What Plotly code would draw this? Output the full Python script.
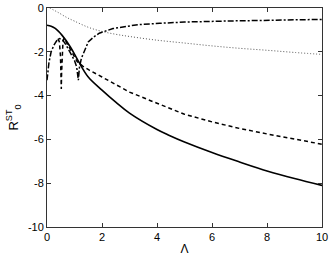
import plotly.graph_objects as go

# Solid curve
solid_x = [0, 0.15, 0.3, 0.55, 0.85, 1.15, 1.5, 2, 2.5, 3, 4, 4.45, 5, 6, 7, 8, 9, 10]
solid_y = [-0.79, -0.83, -0.93, -1.25, -1.78, -2.45, -3.15, -3.75, -4.3, -4.8, -5.55, -5.82, -6.12, -6.6, -7.03, -7.44, -7.79, -8.1]

# Dashed curve
dashed_x = [0.4, 0.45, 0.49, 0.51, 0.52, 0.53, 0.55, 0.58, 0.62, 0.7, 0.92, 1.1, 1.3, 1.54, 2, 2.5, 3, 4, 5, 6, 7, 8, 9, 10]
dashed_y = [-1.4, -1.55, -2.2, -3.0, -3.7, -3.0, -2.2, -1.55, -1.38, -1.55, -2.0, -2.45, -2.65, -2.84, -3.15, -3.5, -3.84, -4.35, -4.85, -5.2, -5.5, -5.75, -6.0, -6.22]

# Dotted curve
dotted_x = [0.1, 0.4, 0.7, 1.0, 1.5, 2, 2.5, 3, 4, 5, 6, 7, 8, 9, 10]
dotted_y = [0.0, -0.2, -0.42, -0.6, -0.88, -1.07, -1.2, -1.3, -1.47, -1.6, -1.73, -1.84, -1.93, -2.03, -2.12]

# Dash-dot curve
dashdot_x = [0, 0.03, 0.07, 0.15, 0.25, 0.35, 0.45, 0.55, 0.7, 0.85, 1.0, 1.08, 1.14, 1.18, 1.25, 1.35, 1.5, 1.7, 1.9, 2.4, 3.3, 4.1, 5, 6.75, 8, 10]
dashdot_y = [-3.3, -2.9, -2.5, -2.0, -1.7, -1.5, -1.4, -1.42, -1.7, -2.05, -2.4, -2.7, -3.3, -2.7, -2.3, -2.0, -1.55, -1.32, -1.15, -0.94, -0.76, -0.7, -0.64, -0.59, -0.55, -0.52]

x_ticks = [0, 2, 4, 6, 8, 10]
y_ticks = [0, -2, -4, -6, -8, -10]

FONT = "Liberation Sans, Arial, sans-serif"

fig = go.Figure()
fig.add_trace(go.Scatter(x=dotted_x, y=dotted_y, mode="lines",
                         line=dict(color="#555", width=1, dash="1px,2px", shape="spline")))
fig.add_trace(go.Scatter(x=dashdot_x, y=dashdot_y, mode="lines",
                         line=dict(color="black", width=1.5, dash="6px,2px,2px,2px")))
fig.add_trace(go.Scatter(x=dashed_x, y=dashed_y, mode="lines",
                         line=dict(color="black", width=1.5, dash="4px,3px")))
fig.add_trace(go.Scatter(x=solid_x, y=solid_y, mode="lines",
                         line=dict(color="black", width=1.6, shape="spline")))

axis_common = dict(showgrid=False, zeroline=False, showline=True, mirror="ticks",
                   linecolor="#333", linewidth=1, ticks="inside", ticklen=4,
                   tickcolor="#333", ticklabeloverflow="allow",
                   tickfont=dict(family=FONT, size=11, color="black"))

fig.update_xaxes(range=[0, 10], tickvals=x_ticks, ticktext=[str(v) for v in x_ticks],
                 title=dict(text="Λ", font=dict(family=FONT, size=12, color="black"), standoff=3),
                 **axis_common)
fig.update_yaxes(range=[-10, 0], tickvals=y_ticks, ticktext=[str(v) for v in y_ticks],
                 title=dict(text="R<sup>ST</sup><sub>0</sub>", font=dict(family=FONT, size=13, color="black"), standoff=6),
                 **axis_common)

fig.update_layout(width=332, height=256, margin=dict(l=47, r=10, t=8, b=29, autoexpand=False),
                  plot_bgcolor="white", paper_bgcolor="white", showlegend=False)

# Remove the default 8px page margin so the figure fills the 332x256 window.
fig.write_html("out.html", config={"displayModeBar": False},
               post_script="document.body.style.margin='0';")
